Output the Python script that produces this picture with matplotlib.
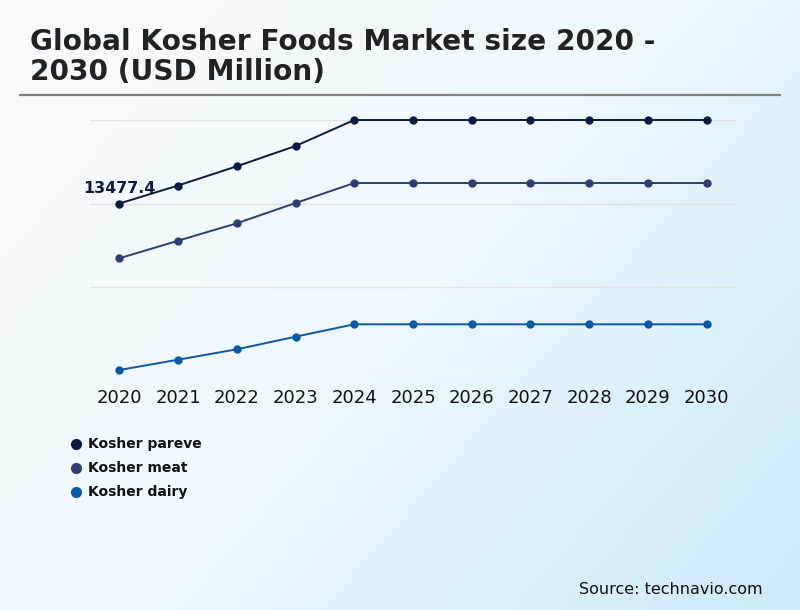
import matplotlib
matplotlib.use("Agg")
import matplotlib.pyplot as plt
import numpy as np
from matplotlib.colors import LinearSegmentedColormap

years = ["2020", "2021", "2022", "2023", "2024", "2025", "2026", "2027", "2028", "2029", "2030"]
series_names = ["Kosher pareve", "Kosher meat", "Kosher dairy"]
pareve = [13477.4, 14930, 16480, 18117, 20216, 20216, 20216, 20216, 20216, 20216, 20216]
meat = [9055, 10475, 11879, 13517, 15131, 15131, 15131, 15131, 15131, 15131, 15131]
dairy = [40, 872, 1711, 2728, 3728, 3728, 3728, 3728, 3728, 3728, 3728]
grid_values = [0, 6738.7, 13477.4, 20216.1]
colors = ["#0b1a40", "#2e3e74", "#0b58a6"]

W, H = 800, 610
fig = plt.figure(figsize=(W / 100, H / 100), dpi=100)

# background gradient
bg = fig.add_axes([0, 0, 1, 1], zorder=-10)
yy, xx = np.mgrid[0:1:200j, 0:1:200j]
t = (xx * 0.6 + yy * 0.4)
cmap = LinearSegmentedColormap.from_list("bg", ["#f7fbfe", "#eef8fd", "#cbeaf8"])
bg.imshow(t, cmap=cmap, aspect="auto", extent=[0, 1, 0, 1], origin="upper", vmin=0, vmax=1)
bg.axis("off")

ax = fig.add_axes([90 / W, 1 - 370.5 / H, 646 / W, 250.5 / H])
ax.set_facecolor("none")
x = np.arange(len(years))
for vals, name, c in zip([pareve, meat, dairy], series_names, colors):
    ax.plot(x, vals, color=c, lw=1.4, marker="o", ms=5.0, clip_on=False, zorder=3, label=name)

ax.set_xlim(-0.5, len(years) - 0.5)
ax.set_ylim(grid_values[0], grid_values[-1])
ax.set_yticks(grid_values)
ax.set_yticklabels([])
ax.tick_params(axis="y", length=0)
ax.grid(axis="y", color="#e3e3e3", lw=1)
ax.set_xticks(x)
ax.set_xticklabels(years, fontsize=13.0, color="#111111")
ax.tick_params(axis="x", length=0, pad=13)
for s in ax.spines.values():
    s.set_visible(False)

ax.annotate(f"{pareve[0]}", xy=(x[0], pareve[0]), xytext=(-26, 5.5), textcoords="offset points",
            fontsize=11.4, fontweight="bold", color="#0b1a40", ha="left", va="bottom")

# title
fig.text(30 / W, 1 - 80 / H, "Global Kosher Foods Market size 2020 -\n2030 (USD Million)",
         fontsize=20.2, fontweight="bold", color="#222222", ha="left", va="baseline",
         linespacing=1.1)
fig.add_artist(plt.Line2D([20 / W, 780 / W], [1 - 95 / H, 1 - 95 / H], color="#808080", lw=1.6))

# legend
for i, (name, c) in enumerate(zip(series_names, colors)):
    yp = 1 - (444 + 24 * i) / H
    fig.add_artist(plt.Line2D([76 / W], [yp], marker="o", ms=7, color=c, lw=0))
    fig.text(88 / W, yp, name, fontsize=10.0, fontweight="bold", color="#111111", va="center", ha="left")

fig.text(763 / W, 1 - 589 / H, "Source: technavio.com", fontsize=11.5, color="#111111",
         ha="right", va="center")

fig.savefig("out.png", dpi=100)
